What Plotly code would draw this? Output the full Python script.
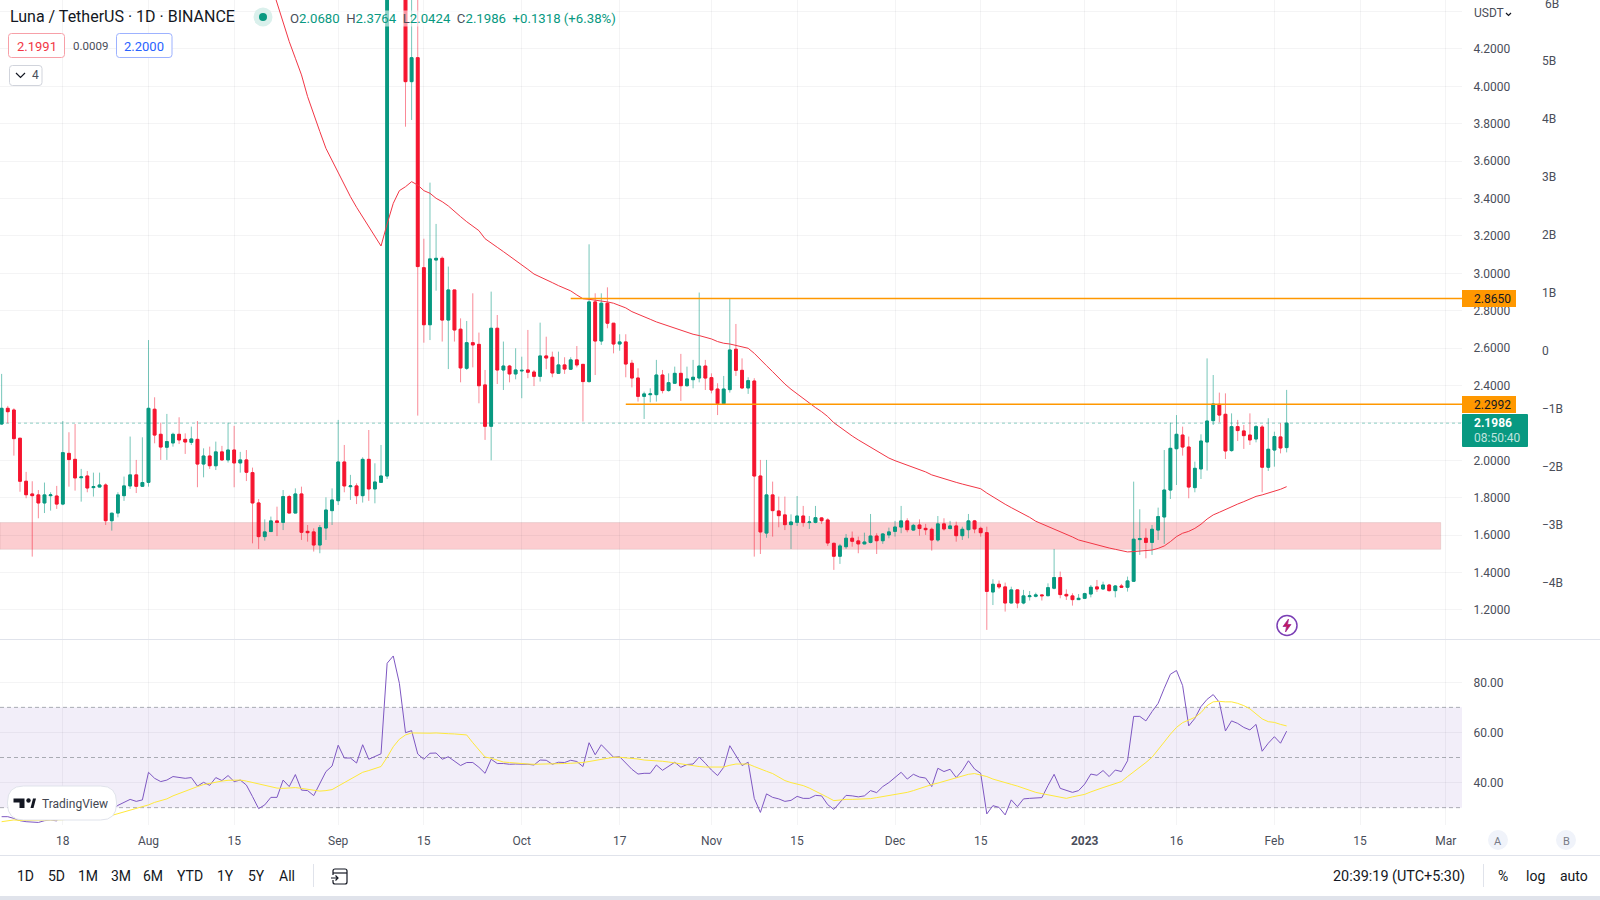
"""
Luna / TetherUS daily chart with RSI pane, rebuilt with Plotly.
Prices and RSI values are read off the screenshot by eye.
"""

import pandas as pd
import plotly.graph_objects as go
from plotly.subplots import make_subplots

# ── Data ──────────────────────────────────────────────────────────────────────
open_prices = [
    # Jul 8 - 31
    2.194, 2.278, 2.269, 2.118, 1.888, 1.820, 1.815, 1.772, 1.811, 1.809, 1.766, 2.037,
    2.005, 1.907, 1.916, 1.854, 1.857, 1.868, 1.677, 1.718, 1.811, 1.863, 1.922, 1.861,
    # Aug
    1.882, 2.273, 2.139, 2.070, 2.093, 2.139, 2.112, 2.096, 2.112, 1.980, 2.023, 1.971, 2.045, 2.002, 2.055, 1.986,
    2.002, 1.934, 1.772, 1.592, 1.619, 1.676, 1.668, 1.806, 1.718, 1.820, 1.620, 1.617, 1.547, 1.638, 1.731,
    # Sep
    1.784, 1.991, 1.859, 1.863, 1.811, 2.005, 1.847, 1.882, 1.916, 5.60, 6.40, 5.00, 4.025, 4.153, 3.030,
    2.725, 3.071, 3.080, 2.750, 2.911, 2.701, 2.492, 2.629, 2.620, 2.403, 2.182, 2.706, 2.483, 2.504, 2.462,
    # Oct
    2.478, 2.483, 2.472, 2.449, 2.558, 2.551, 2.465, 2.510, 2.487, 2.537, 2.513, 2.421, 2.847, 2.638, 2.840, 2.733,
    2.622, 2.633, 2.519, 2.440, 2.342, 2.351, 2.351, 2.456, 2.373, 2.412, 2.465, 2.399, 2.431, 2.440, 2.504,
    # Nov
    2.442, 2.381, 2.303, 2.378, 2.594, 2.481, 2.387, 2.424, 1.916, 1.611, 1.815, 1.729, 1.708, 1.656, 1.668,
    1.702, 1.667, 1.668, 1.692, 1.681, 1.556, 1.487, 1.538, 1.583, 1.569, 1.553, 1.561, 1.595, 1.570, 1.601,
    # Dec
    1.620, 1.643, 1.676, 1.627, 1.654, 1.636, 1.631, 1.574, 1.660, 1.635, 1.649, 1.597, 1.629, 1.676, 1.636, 1.613,
    1.296, 1.337, 1.323, 1.237, 1.307, 1.237, 1.271, 1.273, 1.280, 1.276, 1.316, 1.373, 1.283, 1.275, 1.255,
    # Jan
    1.262, 1.285, 1.323, 1.312, 1.333, 1.303, 1.328, 1.321, 1.353, 1.576, 1.583, 1.561, 1.627, 1.697, 1.841, 2.062,
    2.135, 2.071, 1.854, 1.954, 2.098, 2.212, 2.299, 2.246, 2.052, 2.180, 2.157, 2.135, 2.114, 2.178, 1.963,
    # Feb
    2.055, 2.125, 2.0680,
]
high_prices = [
    2.462, 2.291, 2.278, 2.118, 1.938, 1.888, 1.841, 1.881, 1.829, 1.863, 2.210, 2.150,
    2.194, 1.954, 1.943, 1.934, 1.934, 1.877, 1.720, 1.829, 1.913, 2.127, 2.002, 2.123,
    2.643, 2.337, 2.201, 2.248, 2.148, 2.230, 2.144, 2.180, 2.210, 2.064, 2.073, 2.100, 2.077, 2.201, 2.184, 2.045,
    2.055, 1.961, 1.793, 1.684, 1.699, 1.752, 1.841, 1.815, 1.850, 1.859, 1.654, 1.636, 1.654, 1.802, 1.850,
    2.216, 2.082, 1.922, 1.877, 2.016, 2.162, 1.984, 2.082, 6.10, 7.00, 6.80, 5.30, 5.00, 4.60, 3.185,
    3.485, 3.264, 3.090, 3.036, 2.911, 2.759, 2.745, 2.893, 2.683, 2.483, 2.902, 2.777, 2.635, 2.510, 2.599,
    2.554, 2.697, 2.483, 2.736, 2.661, 2.581, 2.581, 2.551, 2.551, 2.611, 2.515, 3.155, 2.893, 2.893, 2.925, 2.733,
    2.674, 2.674, 2.537, 2.492, 2.367, 2.385, 2.537, 2.483, 2.465, 2.501, 2.569, 2.501, 2.537, 2.897, 2.537,
    2.465, 2.412, 2.451, 2.863, 2.729, 2.545, 2.444, 2.439, 2.002, 2.002, 1.886, 1.806, 1.806, 1.711, 1.809,
    1.756, 1.702, 1.756, 1.695, 1.690, 1.560, 1.553, 1.606, 1.619, 1.592, 1.613, 1.713, 1.610, 1.610, 1.640,
    1.676, 1.756, 1.690, 1.660, 1.684, 1.660, 1.640, 1.702, 1.690, 1.676, 1.672, 1.645, 1.713, 1.681, 1.645, 1.645,
    1.364, 1.357, 1.346, 1.324, 1.310, 1.307, 1.301, 1.292, 1.282, 1.342, 1.526, 1.405, 1.310, 1.289, 1.285,
    1.292, 1.333, 1.360, 1.351, 1.339, 1.333, 1.339, 1.378, 1.886, 1.738, 1.636, 1.654, 1.747, 2.055, 2.201, 2.242,
    2.180, 2.127, 1.993, 2.139, 2.545, 2.456, 2.362, 2.358, 2.251, 2.216, 2.189, 2.251, 2.189, 2.189, 2.225,
    2.153, 2.198, 2.3764,
]
low_prices = [
    2.190, 2.198, 2.025, 1.832, 1.797, 1.485, 1.690, 1.718, 1.731, 1.740, 1.760, 1.859,
    1.838, 1.779, 1.829, 1.806, 1.856, 1.654, 1.624, 1.695, 1.783, 1.847, 1.825, 1.859,
    1.859, 2.091, 2.002, 2.002, 2.073, 2.087, 2.034, 2.082, 1.856, 1.909, 1.954, 1.948, 1.998, 1.988, 1.856, 1.934,
    1.889, 1.556, 1.526, 1.570, 1.617, 1.595, 1.627, 1.717, 1.717, 1.574, 1.565, 1.512, 1.503, 1.574, 1.654,
    1.761, 1.829, 1.788, 1.766, 1.774, 1.783, 1.770, 1.880, 1.900, 5.20, 4.90, 3.784, 3.820, 2.239, 2.629,
    2.643, 2.907, 2.635, 2.488, 2.635, 2.417, 2.483, 2.497, 2.305, 2.109, 2.000, 2.408, 2.376, 2.417, 2.433,
    2.332, 2.439, 2.397, 2.421, 2.487, 2.444, 2.462, 2.462, 2.483, 2.497, 2.207, 2.415, 2.456, 2.617, 2.706, 2.572,
    2.586, 2.444, 2.390, 2.314, 2.221, 2.310, 2.314, 2.358, 2.367, 2.408, 2.317, 2.394, 2.385, 2.417, 2.376,
    2.358, 2.242, 2.300, 2.362, 2.451, 2.381, 2.355, 1.485, 1.499, 1.586, 1.592, 1.642, 1.627, 1.526, 1.649,
    1.645, 1.633, 1.663, 1.660, 1.542, 1.414, 1.446, 1.526, 1.538, 1.503, 1.551, 1.556, 1.499, 1.553, 1.583,
    1.592, 1.610, 1.615, 1.624, 1.597, 1.601, 1.517, 1.565, 1.624, 1.631, 1.565, 1.574, 1.583, 1.610, 1.592, 1.093,
    1.226, 1.312, 1.191, 1.235, 1.209, 1.230, 1.250, 1.267, 1.250, 1.273, 1.310, 1.262, 1.253, 1.223, 1.253,
    1.258, 1.267, 1.296, 1.307, 1.298, 1.267, 1.319, 1.298, 1.350, 1.494, 1.476, 1.494, 1.574, 1.553, 1.793, 1.868,
    2.025, 1.797, 1.829, 1.900, 1.945, 2.189, 2.203, 2.007, 2.046, 2.103, 2.061, 2.082, 2.096, 1.829, 1.943,
    1.966, 2.037, 2.0424,
]
close_prices = [
    2.278, 2.260, 2.116, 1.888, 1.816, 1.811, 1.772, 1.815, 1.815, 1.766, 2.041, 2.004,
    1.906, 1.911, 1.852, 1.859, 1.868, 1.677, 1.717, 1.815, 1.863, 1.922, 1.861, 1.881,
    2.278, 2.135, 2.071, 2.100, 2.139, 2.109, 2.098, 2.114, 1.980, 2.023, 1.971, 2.045, 2.002, 2.055, 1.986, 2.002,
    1.936, 1.772, 1.592, 1.617, 1.676, 1.668, 1.806, 1.718, 1.820, 1.615, 1.613, 1.547, 1.640, 1.734, 1.788,
    1.991, 1.863, 1.863, 1.811, 2.005, 1.847, 1.884, 1.916, 5.60, 6.40, 5.00, 4.025, 4.153, 3.036, 2.725,
    3.077, 3.080, 2.750, 2.911, 2.697, 2.494, 2.629, 2.617, 2.399, 2.182, 2.706, 2.483, 2.504, 2.462, 2.483,
    2.481, 2.471, 2.449, 2.558, 2.547, 2.467, 2.510, 2.488, 2.537, 2.510, 2.421, 2.847, 2.638, 2.840, 2.733, 2.622,
    2.633, 2.515, 2.440, 2.342, 2.355, 2.355, 2.456, 2.373, 2.415, 2.465, 2.399, 2.435, 2.444, 2.504, 2.440,
    2.376, 2.303, 2.381, 2.590, 2.481, 2.387, 2.426, 1.916, 1.617, 1.815, 1.731, 1.704, 1.656, 1.670, 1.702,
    1.667, 1.670, 1.693, 1.677, 1.558, 1.487, 1.542, 1.583, 1.567, 1.553, 1.563, 1.595, 1.570, 1.606, 1.617,
    1.643, 1.676, 1.629, 1.652, 1.635, 1.629, 1.574, 1.660, 1.633, 1.649, 1.597, 1.631, 1.676, 1.633, 1.613, 1.299,
    1.337, 1.323, 1.237, 1.307, 1.237, 1.275, 1.275, 1.280, 1.276, 1.319, 1.373, 1.282, 1.275, 1.255, 1.262,
    1.287, 1.321, 1.312, 1.333, 1.303, 1.328, 1.321, 1.355, 1.578, 1.581, 1.561, 1.631, 1.699, 1.841, 2.064, 2.139,
    2.071, 1.857, 1.957, 2.103, 2.210, 2.301, 2.242, 2.050, 2.180, 2.159, 2.132, 2.109, 2.180, 1.963, 2.059,
    2.127, 2.066, 2.1986,
]
# moving average on price, starts Aug 21
price_ma = [
    4.55, 4.447, 4.337, 4.239, 4.150, 4.061, 3.945, 3.847, 3.758, 3.668, 3.602,
    3.535, 3.472, 3.410, 3.353, 3.303, 3.250, 3.200, 3.146, 3.264, 3.374, 3.442, 3.463, 3.490, 3.472, 3.442,
    3.428, 3.401, 3.383, 3.360, 3.330, 3.303, 3.276, 3.250, 3.228, 3.185, 3.164, 3.139, 3.116, 3.093, 3.068,
    3.045, 3.021, 2.996, 2.982, 2.968, 2.950, 2.934, 2.920, 2.906, 2.884, 2.864, 2.861, 2.857, 2.850, 2.847, 2.840,
    2.829, 2.815, 2.795, 2.780, 2.765, 2.754, 2.740, 2.729, 2.715, 2.706, 2.693, 2.684, 2.674, 2.667, 2.660,
    2.649, 2.635, 2.626, 2.622, 2.615, 2.608, 2.599, 2.572, 2.537, 2.506, 2.474, 2.439, 2.408, 2.380, 2.355,
    2.330, 2.305, 2.282, 2.260, 2.234, 2.201, 2.176, 2.153, 2.130, 2.109, 2.089, 2.070, 2.048, 2.029, 2.012,
    1.998, 1.986, 1.975, 1.963, 1.952, 1.938, 1.922, 1.911, 1.902, 1.891, 1.882, 1.873, 1.865, 1.857, 1.848, 1.825,
    1.804, 1.783, 1.765, 1.747, 1.731, 1.713, 1.695, 1.674, 1.660, 1.649, 1.636, 1.620, 1.604, 1.590, 1.574,
    1.565, 1.554, 1.547, 1.538, 1.531, 1.524, 1.517, 1.510, 1.512, 1.515, 1.517, 1.520, 1.529, 1.542, 1.565, 1.592,
    1.610, 1.620, 1.636, 1.658, 1.686, 1.708, 1.722, 1.738, 1.752, 1.766, 1.779, 1.793, 1.807, 1.815, 1.824,
    1.832, 1.845, 1.859,
]
rsi_values = [
    26.4, 26.4, 25.7, 24.8, 24.4, 24.3, 24.1, 24.8, 25.1, 24.7, 33, 33, 30, 30, 29, 29, 29.5, 27, 29, 30.9, 32.1, 33.3, 32.5, 33.1,
    44.1, 41.7, 40.4, 41.0, 42.4, 42.0, 41.7, 42.0, 38.6, 40.1, 38.9, 42.0, 40.8, 42.8, 40.4, 41.0,
    39.0, 34.4, 29.6, 31.1, 34.1, 34.1, 41.0, 38.4, 43.2, 37.0, 36.8, 34.8, 39.7, 44.4, 46.6,
    54.9, 49.8, 49.8, 47.8, 55.1, 49.3, 50.3, 51.5, 87.6, 90.5, 79.6, 59.9, 60.7, 51.4, 49.3,
    51.7, 51.8, 49.3, 50.3, 48.6, 46.8, 48.0, 48.0, 46.1, 43.7, 49.3, 47.6, 47.6, 47.3, 47.4,
    47.4, 47.3, 47.0, 49.0, 48.9, 47.3, 48.1, 48.0, 48.9, 48.4, 46.4, 55.9, 51.1, 55.1, 52.6, 50.1,
    50.3, 47.8, 45.3, 43.4, 43.7, 43.7, 47.0, 44.9, 46.4, 48.1, 46.1, 47.2, 47.4, 50.2, 47.7,
    45.0, 42.8, 46.1, 54.7, 50.7, 46.8, 48.1, 33.7, 28.1, 35.5, 34.1, 33.5, 32.5, 32.9, 34.5,
    33.7, 33.7, 34.9, 34.7, 31.2, 29.3, 32.1, 34.9, 34.7, 34.3, 34.7, 36.8, 36.0, 38.4, 40.0,
    42.1, 44.1, 41.4, 43.3, 42.2, 41.8, 38.4, 45.7, 44.4, 45.3, 42.0, 44.8, 48.7, 45.4, 43.7, 27.5,
    30.8, 30.1, 27.1, 33.1, 30.4, 33.5, 33.7, 33.9, 34.0, 38.8, 43.3, 37.7, 37.0, 36.1, 36.8,
    39.4, 43.4, 42.9, 44.8, 42.4, 45.0, 44.4, 48.7, 66.4, 66.4, 64.6, 68.3, 71.6, 77.6, 83.2, 84.7,
    78.7, 62.6, 65.6, 70.3, 73.2, 75.1, 72.0, 60.6, 64.6, 63.6, 62.0, 61.0, 63.2, 52.5, 55.7,
    58.3, 55.7, 60.5,
]
rsi_ma = [
    24.4, 24.8, 25.1, 24.9, 24.9, 24.9, 25.1, 25.1, 25.1, 25.1, 25.2, 25.3, 25.5, 25.6, 25.9, 26.1, 26.4, 26.7, 26.9, 27.6, 28.3, 28.8, 29.7, 30.4,
    31.1, 32.1, 32.8, 33.5, 34.7, 35.7, 36.6, 37.7, 38.4, 39.2, 39.7, 40.2, 40.6, 40.9, 41.0, 41.0,
    40.6, 40.0, 39.4, 38.9, 38.1, 37.8, 37.7, 37.8, 38.0, 37.7, 37.4, 36.9, 36.6, 36.8, 37.2,
    38.6, 40.0, 41.3, 42.5, 44.1, 44.8, 45.6, 46.4, 50.1, 54.3, 57.3, 59.0, 59.8, 59.7, 59.5,
    59.7, 59.8, 59.8, 59.5, 59.4, 59.3, 59.0, 55.9, 53.0, 50.2, 49.7, 48.8, 48.2, 48.0, 47.7,
    47.6, 47.4, 47.3, 47.3, 47.4, 47.4, 47.4, 47.6, 47.7, 47.8, 48.0, 48.4, 48.9, 49.4, 49.8, 50.1,
    50.1, 49.9, 49.7, 49.4, 49.0, 48.9, 48.6, 48.5, 48.2, 47.8, 47.3, 46.9, 46.6, 46.4, 46.2,
    46.1, 46.0, 46.2, 46.9, 47.4, 47.4, 47.4, 46.4, 45.3, 44.5, 43.6, 42.2, 40.8, 40.0, 39.4,
    38.8, 37.8, 36.6, 35.6, 34.1, 32.8, 33.1, 33.3, 33.3, 33.3, 33.3, 33.6, 34.0, 34.4, 34.7,
    35.1, 35.6, 36.1, 36.8, 37.7, 38.5, 39.2, 39.8, 40.5, 41.3, 41.8, 42.5, 43.3, 43.6, 43.0, 42.4,
    41.4, 40.6, 40.0, 39.3, 38.6, 37.7, 37.0, 36.1, 35.6, 35.1, 34.7, 34.1, 33.7, 34.3, 34.8,
    35.3, 36.3, 37.0, 38.0, 38.8, 39.6, 40.4, 42.4, 44.2, 46.1, 48.0, 50.1, 53.0, 56.2, 59.3, 62.0,
    63.9, 65.0, 66.0, 67.9, 70.7, 72.2, 72.4, 72.2, 72.2, 71.6, 70.7, 69.4, 67.4, 65.4, 64.3,
    64.0, 63.2, 62.6,
]

dates = pd.date_range("2022-07-08", periods=len(close_prices), freq="D")
ma_dates = pd.date_range("2022-08-21", periods=len(price_ma), freq="D")

date_ticks = ["2022-07-18", "2022-08-01", "2022-08-15", "2022-09-01", "2022-09-15", "2022-10-01", "2022-10-17",
              "2022-11-01", "2022-11-15", "2022-12-01", "2022-12-15", "2023-01-01", "2023-01-16", "2023-02-01",
              "2023-02-15", "2023-03-01"]
date_labels = ["18", "Aug", "15", "Sep", "15", "Oct", "17", "Nov", "15", "Dec", "15", "<b>2023</b>", "16", "Feb", "15", "Mar"]

price_ticks = [1.2, 1.4, 1.6, 1.8, 2.0, 2.2, 2.4, 2.6, 2.8, 3.0, 3.2, 3.4, 3.6, 3.8, 4.0, 4.2, 4.4]
price_labels = ["1.2000", "1.4000", "1.6000", "1.8000", "2.0000", "", "2.4000", "2.6000", "2.8000", "3.0000",
                "3.2000", "3.4000", "3.6000", "3.8000", "4.0000", "4.2000", ""]
rsi_ticks = [40, 60, 80]
rsi_labels = ["40.00", "60.00", "80.00"]
rsi_bands = [30, 50, 70]
volume_ticks = [-4, -3, -2, -1, 0, 1, 2, 3, 4, 5]
volume_labels = ["−4B", "−3B", "−2B", "−1B", "0", "1B", "2B", "3B", "4B", "5B"]

resistance_levels = [2.8650, 2.2992]
resistance_starts = ["2022-10-09", "2022-10-18"]
zone_low, zone_high = 1.524, 1.667
last_close = 2.1986

# ── Colours and geometry ──────────────────────────────────────────────────────
RED = "#f5152f"
GREEN = "#089981"
ORANGE = "#ff9800"
GRID = "rgba(42,46,57,0.05)"
TEXT = "#4a4e5a"
DARK = "#131722"
FONT = "Roboto"
W, H = 1600, 900
PLOT_RIGHT = 1462
DAY_PX = 6.119


def fx(x):
    return x / W


def fy(y):
    return 1 - y / H


def date_at(x):
    return pd.Timestamp("2022-08-01") + pd.Timedelta(days=(x - 148.5) / DAY_PX)


def rounded(x0, y0, x1, y1, r):
    pts = [f"M{fx(x0 + r)},{fy(y0)}", f"L{fx(x1 - r)},{fy(y0)}", f"Q{fx(x1)},{fy(y0)} {fx(x1)},{fy(y0 + r)}",
           f"L{fx(x1)},{fy(y1 - r)}", f"Q{fx(x1)},{fy(y1)} {fx(x1 - r)},{fy(y1)}", f"L{fx(x0 + r)},{fy(y1)}",
           f"Q{fx(x0)},{fy(y1)} {fx(x0)},{fy(y1 - r)}", f"L{fx(x0)},{fy(y0 + r)}", f"Q{fx(x0)},{fy(y0)} {fx(x0 + r)},{fy(y0)}Z"]
    return "".join(pts)


def poly(points, close=False):
    body = "L".join(f"{fx(x)},{fy(y)}" for x, y in points)
    return "M" + body + ("Z" if close else "")


def path_shape(path, fill="rgba(0,0,0,0)", line="rgba(0,0,0,0)", width=1):
    return dict(type="path", xref="paper", yref="paper", path=path, fillcolor=fill,
                line=dict(color=line, width=width), layer="above")


def box_shape(x0, y0, x1, y1, fill, line="rgba(0,0,0,0)", width=0, kind="rect"):
    return dict(type=kind, xref="paper", yref="paper", x0=fx(x0), x1=fx(x1), y0=fy(y0), y1=fy(y1),
                fillcolor=fill, line=dict(color=line, width=width), layer="above")


def circle(cx, cy, r, fill, line="rgba(0,0,0,0)", width=0):
    return box_shape(cx - r, cy - r, cx + r, cy + r, fill, line, width, kind="circle")


def label(x, y, text, size=12, color=TEXT, anchor="left", bg=None):
    return dict(xref="paper", yref="paper", x=fx(x), y=fy(y), text=text, showarrow=False, xanchor=anchor,
                yanchor="middle", font=dict(family=FONT, size=size, color=color), bgcolor=bg, borderpad=0)


# ── Traces ────────────────────────────────────────────────────────────────────
fig = make_subplots(rows=2, cols=1, shared_xaxes=True)

# wicks first, pale, then the solid bodies on top
fig.add_trace(go.Candlestick(
    x=dates, open=open_prices, high=high_prices, low=low_prices, close=close_prices,
    increasing=dict(line=dict(color="rgba(8,153,129,0.55)", width=1), fillcolor="rgba(0,0,0,0)"),
    decreasing=dict(line=dict(color="rgba(245,21,47,0.5)", width=1), fillcolor="rgba(0,0,0,0)"),
    whiskerwidth=0, hoverinfo="skip", showlegend=False), row=1, col=1)
body_top = [max(o, c) for o, c in zip(open_prices, close_prices)]
body_bottom = [min(o, c) for o, c in zip(open_prices, close_prices)]
fig.add_trace(go.Candlestick(
    x=dates, open=open_prices, high=body_top, low=body_bottom, close=close_prices,
    increasing=dict(line=dict(color=GREEN, width=1), fillcolor=GREEN),
    decreasing=dict(line=dict(color=RED, width=1), fillcolor=RED),
    hoverinfo="skip", showlegend=False), row=1, col=1)

fig.add_trace(go.Scatter(x=ma_dates, y=price_ma, mode="lines", line=dict(color="#f23645", width=1),
                         hoverinfo="skip", showlegend=False), row=1, col=1)

for level, start in zip(resistance_levels, resistance_starts):
    fig.add_trace(go.Scatter(x=[start, date_at(PLOT_RIGHT)], y=[level, level], mode="lines",
                             line=dict(color=ORANGE, width=1.5), hoverinfo="skip", showlegend=False), row=1, col=1)

fig.add_trace(go.Scatter(x=dates, y=rsi_values, mode="lines", line=dict(color="#7e57c2", width=1),
                         hoverinfo="skip", showlegend=False), row=2, col=1)
fig.add_trace(go.Scatter(x=dates, y=rsi_ma, mode="lines", line=dict(color="#ffe93b", width=1),
                         hoverinfo="skip", showlegend=False), row=2, col=1)

# invisible trace only so the volume scale gets drawn
fig.add_trace(go.Scatter(x=dates[:2], y=[0, 0], yaxis="y3", xaxis="x", mode="lines", opacity=0,
                         hoverinfo="skip", showlegend=False))

# ── Shapes ────────────────────────────────────────────────────────────────────
shapes = [
    # support zone and last price line
    dict(type="rect", xref="x", yref="y", x0=date_at(0), x1=date_at(1440.7), y0=zone_low, y1=zone_high,
         fillcolor="rgba(242,54,69,0.25)", line=dict(color="rgba(150,100,100,0.15)", width=1), layer="below"),
    dict(type="line", xref="x", yref="y", x0=date_at(0), x1=date_at(PLOT_RIGHT), y0=last_close, y1=last_close,
         line=dict(color="rgba(8,153,129,0.45)", width=1, dash="dot"), layer="below"),
    # RSI band
    dict(type="rect", xref="x2", yref="y2", x0=date_at(0), x1=date_at(PLOT_RIGHT), y0=rsi_bands[0], y1=rsi_bands[2],
         fillcolor="rgba(126,87,194,0.1)", line=dict(width=0), layer="below"),
    # pane and toolbar separators
    box_shape(0, 639, W, 640, "#e0e3eb"),
    box_shape(0, 855, W, 856, "#e0e3eb"),
    box_shape(0, 896, W, 900, "#e0e3eb"),
    box_shape(313, 864, 314, 887, "#e0e3eb"),
    box_shape(1483, 864, 1484, 887, "#e0e3eb"),
    # header boxes
    path_shape(rounded(8.5, 33.5, 64.5, 57.5, 3), "#ffffff", "#f7a0a8"),
    path_shape(rounded(116.5, 33.5, 172, 57.5, 3), "#ffffff", "#9db2ff"),
    path_shape(rounded(9.5, 65.5, 42, 85.5, 3), "#ffffff", "#d1d4dc"),
    path_shape(poly([(16, 73), (20.5, 77.5), (25, 73)]), line=DARK, width=1.2),
    # status dot
    circle(263, 17, 9.5, "#daf0ec"),
    circle(263, 17, 4, GREEN),
    # USDT chevron
    path_shape(poly([(1506, 13), (1508.5, 15.5), (1511, 13)]), line=DARK, width=1.2),
    # price labels
    box_shape(1462, 290, 1516, 307, ORANGE),
    box_shape(1462, 396, 1516, 413, ORANGE),
    path_shape(rounded(1462, 414, 1528, 447, 1), GREEN),
    # lightning badge
    circle(1287, 625.5, 10, "#ffffff", "#7b3fb5", 1.5),
    path_shape(poly([(1288.5, 619), (1283, 626.5), (1286.5, 626.5), (1285.5, 632), (1291, 624.5), (1287.5, 624.5)], True),
               "#c2185b", "#a02a98", 0.8),
    # TradingView badge
    path_shape(rounded(7.5, 786, 116.5, 820, 16), "#ffffff", "#e0e3eb"),
    path_shape(poly([(13.5, 798.5), (24.5, 798.5), (24.5, 808), (19.5, 808), (19.5, 802.5), (13.5, 802.5)], True), DARK),
    circle(28.5, 800.5, 2.2, DARK),
    path_shape(poly([(30.5, 808), (33, 798.5), (36, 798.5), (33.5, 808)], True), DARK),
    # A / B buttons
    circle(1498, 840, 10, "#f0f3fa"),
    circle(1566, 840, 10, "#f0f3fa"),
    # calendar icon
    path_shape(rounded(333, 869, 347, 884, 2), line=DARK, width=1.2),
    path_shape(poly([(333, 873), (347, 873)]), line=DARK, width=1.2),
    box_shape(329, 875, 338, 880, "#ffffff"),
    path_shape(poly([(331, 878), (338, 878)]) + poly([(335.5, 875.5), (338, 878), (335.5, 880.5)]), line=DARK, width=1.2),
]

green_value = lambda v: f'<span style="color:{GREEN}">{v}</span>'
ohlc_text = ("O" + green_value("2.0680") + "  H" + green_value("2.3764") + "  L" + green_value("2.0424")
             + "  C" + green_value("2.1986") + "  " + green_value("+0.1318 (+6.38%)"))

annotations = [
    label(9, 17, "Luna / TetherUS · 1D · BINANCE", size=16, color=DARK),
    label(289, 18, ohlc_text, size=13.2, color=TEXT, bg="rgba(255,255,255,0.55)"),
    label(36.5, 46, "2.1991", size=13, color="#f23645", anchor="center"),
    label(90, 46, "0.0009", size=11.5, color=TEXT, anchor="center"),
    label(144, 46, "2.2000", size=13, color="#2962ff", anchor="center"),
    label(31, 75, "4", size=12, color=TEXT),
    label(1473, 13, "USDT", size=12, color=TEXT),
    label(1544, 4, "6B", size=12, color=TEXT),
    label(1473, 298.5, "2.8650", size=12, color=DARK),
    label(1473, 404.5, "2.2992", size=12, color=DARK),
    label(1473, 423, "<b>2.1986</b>", size=12, color="#ffffff"),
    label(1473, 438, "08:50:40", size=12, color="rgba(255,255,255,0.75)"),
    label(41, 804, "TradingView", size=12, color="#434651"),
    label(1498, 841, "A", size=11, color="#787b86", anchor="center"),
    label(1566, 841, "B", size=11, color="#787b86", anchor="center"),
    label(1332, 876, "20:39:19 (UTC+5:30)", size=14.4, color=DARK),
    label(1503, 876, "%", size=14, color=DARK, anchor="center"),
    label(1535, 876, "log", size=14, color=DARK, anchor="center"),
    label(1574, 876, "auto", size=14, color=DARK, anchor="center"),
]
for x, text in zip([25, 56, 88, 121, 153, 190, 225, 256, 287],
                   ["1D", "5D", "1M", "3M", "6M", "YTD", "1Y", "5Y", "All"]):
    annotations.append(label(x, 876, text, size=14, color=DARK, anchor="center"))

# ── Layout ────────────────────────────────────────────────────────────────────
fig.update_xaxes(range=[date_at(0), date_at(PLOT_RIGHT)], tickmode="array", tickvals=date_ticks, ticktext=date_labels,
                 showgrid=True, gridcolor=GRID, gridwidth=1, zeroline=False, showline=False,
                 domain=[0, PLOT_RIGHT / W], tickfont=dict(family=FONT, size=12, color=TEXT))
fig.update_xaxes(rangeslider_visible=False, showticklabels=False, row=1, col=1)
fig.update_xaxes(ticks="outside", ticklen=5, tickcolor="rgba(0,0,0,0)", row=2, col=1)

fig.update_layout(
    width=W, height=H, autosize=False, margin=dict(l=0, r=0, t=0, b=0),
    paper_bgcolor="white", plot_bgcolor="white", showlegend=False, hovermode=False,
    boxmode="overlay", boxgap=0.35, dragmode=False,
    font=dict(family=FONT, size=12, color=TEXT),
    yaxis=dict(domain=[fy(639), 1], range=[1.0444, 4.4615], side="right", tickmode="array", tickvals=price_ticks,
               ticktext=price_labels, showgrid=True, gridcolor=GRID, zeroline=False, showline=False,
               ticks="outside", ticklen=8, tickcolor="rgba(0,0,0,0)", tickfont=dict(family=FONT, size=12, color=TEXT)),
    yaxis2=dict(domain=[fy(825), fy(640)], range=[23.08, 96.87], side="right", tickmode="array", tickvals=rsi_ticks,
                ticktext=rsi_labels, showgrid=True, gridcolor=GRID, zeroline=False, showline=False,
                ticks="outside", ticklen=8, tickcolor="rgba(0,0,0,0)", tickfont=dict(family=FONT, size=12, color=TEXT)),
    yaxis3=dict(overlaying="y", anchor="free", position=1541 / W, side="right", range=[-4.97, 6.05], tickmode="array",
                tickvals=volume_ticks, ticktext=volume_labels, showgrid=False, zeroline=False, showline=False,
                ticks="", tickfont=dict(family=FONT, size=12, color=TEXT)),
    shapes=shapes,
    annotations=annotations,
)

# RSI reference levels
for level in rsi_bands:
    fig.add_shape(type="line", xref="x2", yref="y2", x0=date_at(0), x1=date_at(PLOT_RIGHT), y0=level, y1=level,
                  line=dict(color="#a9abb3", width=1, dash="4px,3px"), layer="below")

fig.write_html("out.html", config={"displayModeBar": False}, post_script="document.body.style.margin='0';")
